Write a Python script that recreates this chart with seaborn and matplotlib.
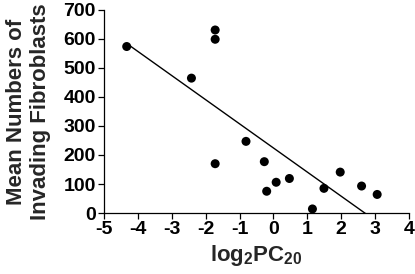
import numpy as np
import pandas as pd
import matplotlib
matplotlib.use('Agg')
import matplotlib.pyplot as plt
import seaborn as sns

# values
log2_pc20 = [-4.33, -2.42, -1.72, -1.72, -1.72, -0.81, -0.27, -0.20, 0.08, 0.47,
             1.15, 1.49, 1.97, 2.60, 3.06]
invading = [574, 465, 631, 599, 170, 247, 177, 75, 106, 119, 14, 85, 141, 93, 64]
xticks = [-5, -4, -3, -2, -1, 0, 1, 2, 3, 4]
yticks = [0, 100, 200, 300, 400, 500, 600, 700]

df = pd.DataFrame({'x': log2_pc20, 'y': invading})

sns.set_style('ticks')
plt.rcParams['font.family'] = ['Liberation Sans', 'DejaVu Sans']
plt.rcParams['font.weight'] = 'bold'
plt.rcParams['axes.unicode_minus'] = False
plt.rcParams['mathtext.fontset'] = 'custom'
plt.rcParams['mathtext.rm'] = 'Liberation Sans:bold'
plt.rcParams['mathtext.default'] = 'rm'

fig = plt.figure(figsize=(4.15, 2.74), dpi=100)
ax = fig.add_axes([0.2506, 0.2226, 0.735, 0.741])

sns.regplot(data=df, x='x', y='y', ax=ax, ci=None, truncate=True,
            scatter_kws=dict(s=42, color='black', alpha=1, edgecolors='none', zorder=3, clip_on=False),
            line_kws=dict(color='black', lw=1.0))

ax.set_xlim(-5, 4)
ax.set_ylim(0, 700)
ax.set_xticks(xticks)
ax.set_yticks(yticks)
ax.tick_params(direction='out', length=4, width=0.9, labelsize=14, pad=2, colors='black')
for lab in ax.get_xticklabels() + ax.get_yticklabels():
    lab.set_fontweight('bold')
for s in ['left', 'bottom']:
    ax.spines[s].set_linewidth(0.9)
    ax.spines[s].set_color('black')
sns.despine(ax=ax)

ax.set_xlabel('log$_2$PC$_{20}$', fontsize=16, fontweight='bold', labelpad=3)
ax.set_ylabel('Mean Numbers of\nInvading Fibroblasts', fontsize=16, fontweight='bold',
              labelpad=9, linespacing=1.2)

fig.savefig('out.png', dpi=100)
